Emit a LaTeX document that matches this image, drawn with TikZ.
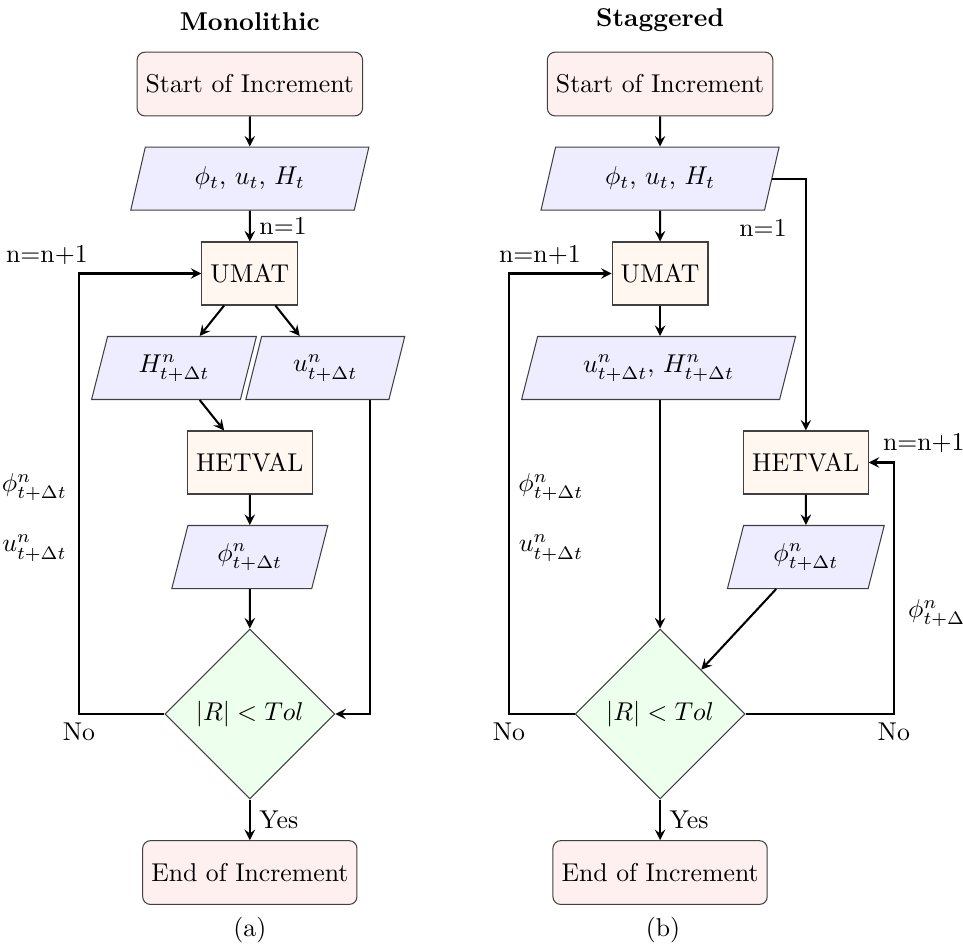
\documentclass[tikz,border=0pt]{standalone}
\usepackage{tikz}
\usetikzlibrary{shapes.geometric, arrows}
\usetikzlibrary{calc}
\usepackage{xcolor}
\usepackage{amsmath,amssymb}
\tikzstyle{startstop} = [rectangle, rounded corners=3pt, minimum height=0.87cm, draw=black!75, fill=red!6]
\tikzstyle{io} = [trapezium, trapezium left angle=70, trapezium right angle=110, trapezium stretches body, minimum height=0.86cm, draw=black!75, fill=blue!7]
\tikzstyle{process} = [rectangle, minimum height=0.86cm, draw=black!75, fill=orange!6]
\tikzstyle{decision} = [diamond, aspect=1, minimum size=2.32cm, inner sep=0pt, draw=black!75, fill=green!7]
\tikzstyle{arrow} = [thick,->,>=stealth]

\begin{document}
\begin{tikzpicture}
\useasboundingbox (0,0) rectangle (13.145,-12.98);

% (a) monolithic
\node[font=\bfseries] (titleA) at (3.41,-0.30) {Monolithic};
\node (startA) [startstop] at (3.41,-1.147) {Start of Increment};
\node (inA) [io, minimum width=3.25cm] at (3.41,-2.437) {$\phi_t$, $u_t$, $H_t$};
\node (umatA) [process] at (3.41,-3.733) {UMAT};
\node (hA) [io, minimum width=2.25cm] at (2.375,-5.023) {$H^n_{t+\Delta t}$};
\node (uA) [io, minimum width=2.17cm] at (4.44,-5.023) {$u^n_{t+\Delta t}$};
\node (hetA) [process] at (3.41,-6.313) {HETVAL};
\node (phiA) [io, minimum width=2.13cm] at (3.41,-7.603) {$\phi^n_{t+\Delta t}$};
\node (diaA) [decision] at (3.41,-9.746) {$|R| < Tol$};
\node (endA) [startstop] at (3.41,-11.91) {End of Increment};
\node (capA) at (3.41,-12.69) {(a)};

\coordinate (noA) at (1.078,-9.746);
\node (loopA) at (0.64,-3.48) {n=n+1};
\node (phiLblA) at (0.47,-6.65) {$\phi^n_{t+\Delta t}$};
\node (uLblA) at (0.47,-7.48) {$u^n_{t+\Delta t}$};
\node[below] (noLblA) at (noA) {No};

\draw[arrow] (startA) -- (inA);
\draw[arrow] (inA) -- node[right] (n1A) {n=1} (umatA);
\draw[arrow] (umatA) -- (hA);
\draw[arrow] (umatA) -- (uA);
\draw[arrow] (hA) -- (hetA);
\draw[arrow] (hetA) -- (phiA);
\draw[arrow] (phiA) -- (diaA);
\draw[arrow] ([xshift=-0.27cm]uA.bottom right corner) |- (diaA.east);
\draw[arrow] (diaA.west) -- (noA) |- (umatA.west);
\draw[arrow] (diaA) -- node[right] (yesA) {Yes} (endA);

% (b) staggered
\node[font=\bfseries] (titleB) at (9.01,-0.28) {Staggered};
\node (startB) [startstop] at (9.01,-1.147) {Start of Increment};
\node (inB) [io, minimum width=3.25cm] at (9.01,-2.437) {$\phi_t$, $u_t$, $H_t$};
\node (umatB) [process] at (9.01,-3.733) {UMAT};
\node (uhB) [io, minimum width=3.74cm] at (8.99,-5.023) {$u^n_{t+\Delta t}$, $H^n_{t+\Delta t}$};
\node (hetB) [process] at (11.0,-6.313) {HETVAL};
\node (phiB) [io, minimum width=2.14cm] at (11.0,-7.603) {$\phi^n_{t+\Delta t}$};
\node (diaB) [decision] at (9.01,-9.746) {$|R| < Tol$};
\node (endB) [startstop] at (9.01,-11.91) {End of Increment};
\node (capB) at (9.05,-12.69) {(b)};

\coordinate (noB) at (6.948,-9.746);
\coordinate (noC) at (12.20,-9.746);
\node (n1B) at (10.415,-3.11) {n=1};
\node (loopB) at (7.37,-3.48) {n=n+1};
\node (loopC) at (12.61,-6.05) {n=n+1};
\node (phiLblB) at (7.52,-6.65) {$\phi^n_{t+\Delta t}$};
\node (uLblB) at (7.52,-7.48) {$u^n_{t+\Delta t}$};
\node (phiLblC) at (12.84,-8.37) {$\phi^n_{t+\Delta t}$};
\node[below] (noLblB) at (noB) {No};
\node[below] (noLblC) at (noC) {No};

\draw[arrow] (startB) -- (inB);
\draw[arrow] (inB) -- (umatB);
\draw[arrow] (umatB) -- (umatB |- uhB.north);
\draw[arrow] (inB.east) -| (hetB.north);
\draw[arrow] (hetB) -- (phiB);
\draw[arrow] (phiB) -- (diaB);
\draw[arrow] (uhB.south -| diaB) -- (diaB);
\draw[arrow] (diaB.west) -- (noB) |- (umatB.west);
\draw[arrow] (diaB.east) -- (noC) |- (hetB.east);
\draw[arrow] (diaB) -- node[right] (yesB) {Yes} (endB);
\end{tikzpicture}
\end{document}
